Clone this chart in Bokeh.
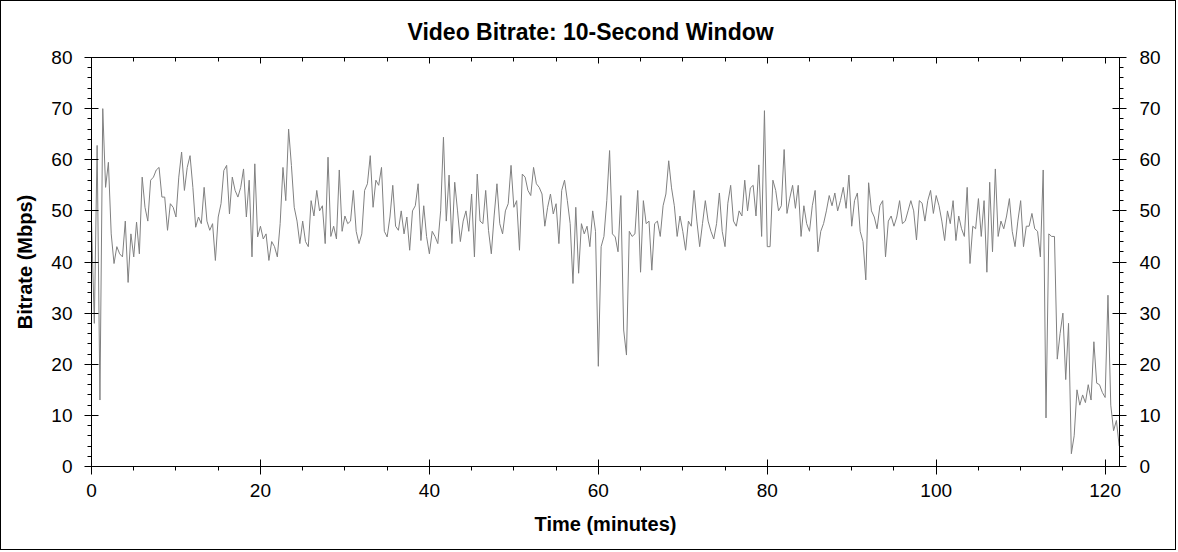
from bokeh.plotting import figure
from bokeh.models import LinearAxis, Range1d, SingleIntervalTicker, CustomJSTickFormatter
from bokeh.embed import file_html
from bokeh.resources import INLINE

title_text = "Video Bitrate: 10-Second Window"
x_label = "Time (minutes)"
y_label = "Bitrate (Mbps)"
x_ticks_interval = 20
y_ticks_interval = 10
step_minutes = 1 / 3  # sampling grid of the read-off values

# bitrate readings (Mbps), one every 20 s, grouped in 5-minute blocks
bitrate_000 = [48, 28, 62.8, 13, 70, 54.6, 59.5, 45.5, 39.7, 43, 41.6, 41, 48, 36, 45.5]
bitrate_005 = [41, 47.8, 41.6, 56.6, 50.7, 48, 56, 56.6, 58, 58.5, 52.7, 52.7, 46.2, 51.4, 50.7]
bitrate_010 = [48.8, 56.6, 61.5, 54, 58.5, 60.8, 54.6, 46.8, 48.8, 47.5, 54.6, 48, 46.2, 47.5, 40.3]
bitrate_015 = [48.8, 51.4, 57.9, 58.9, 49.4, 56.6, 54, 52.7, 54.6, 58.2, 48.8, 56, 41, 59.2, 44.9]
bitrate_020 = [47, 44.5, 45.5, 40.3, 44, 43, 41, 47.5, 58.5, 52, 66, 58.9, 50.7, 48, 43.6]
bitrate_025 = [48, 44, 43, 52, 49, 54, 50, 51, 43.6, 60.5, 45, 47, 44.5, 58, 46]
bitrate_030 = [49, 47.5, 48, 54, 46, 43.6, 45.5, 54, 55.3, 60.8, 50.7, 56, 55, 58.5, 46]
bitrate_035 = [44.9, 48.8, 55, 47, 46.2, 50, 45.5, 48.8, 42.3, 50, 51, 55.3, 44.2, 51, 45]
bitrate_040 = [41.6, 46, 45, 43.6, 50, 64.4, 48, 57, 43.6, 55.6, 50, 44, 48, 50, 46]
bitrate_045 = [53.3, 41, 57.2, 48, 47.5, 54, 46.2, 41.6, 49, 55.3, 47.5, 45.5, 50, 51.4, 58.9]
bitrate_050 = [50.7, 52, 42.3, 57.2, 56.6, 54, 53, 58.5, 55.3, 54.6, 53.3, 47, 50.7, 53.3, 49.4]
bitrate_055 = [51.4, 43.6, 54, 56, 52, 47.5, 35.8, 50.7, 37.8, 47.5, 45.5, 47, 43, 50, 46]
bitrate_060 = [19.6, 43, 45, 52, 61.8, 45.5, 44.9, 42, 53, 26.7, 21.8, 46, 45, 45.5, 54]
bitrate_065 = [38, 52, 47.5, 48, 38.4, 47.5, 48, 45, 51, 53.3, 59.8, 54.5, 51, 45, 49]
bitrate_070 = [46, 42.3, 48, 47, 54, 48, 43, 47.5, 52, 48, 46, 44.5, 47.5, 53.5, 46]
bitrate_075 = [43, 51.5, 55, 48, 47, 50, 49, 56, 50, 54.5, 55, 49, 59, 45, 69.6]
bitrate_080 = [43, 43, 56, 54, 50, 51, 62, 49.5, 52.5, 55, 50.5, 55, 45, 51, 47.5]
bitrate_085 = [46, 51, 54, 42, 46, 47.5, 50, 53, 51, 53.5, 50, 52, 54.6, 50.5, 57]
bitrate_090 = [47, 52, 53.5, 46, 44, 36.5, 55.5, 50, 48.8, 46.5, 51, 52, 41, 48, 49]
bitrate_095 = [47, 48.8, 52, 47.5, 48, 50, 52, 50, 44.3, 52, 51.5, 48, 52, 54, 49.5]
bitrate_100 = [53, 51, 48, 44.2, 50, 47.5, 52, 44.2, 49, 46.5, 45, 54.6, 39.7, 47, 46.5]
bitrate_105 = [52.4, 45, 52, 38, 55.6, 42, 58.2, 45, 48, 46.5, 49, 52.4, 46, 43, 48]
bitrate_110 = [52, 43, 47, 47, 49.5, 46.5, 46, 41, 58, 9.5, 45.5, 45, 45, 21, 26]
bitrate_115 = [30, 17, 28, 2.5, 6, 15, 12, 14, 12.5, 16, 13, 24.4, 16.3, 16, 14.5]
bitrate_120 = [13.5, 33.5, 12, 7, 9, 4]

bitrate = (bitrate_000 + bitrate_005 + bitrate_010 + bitrate_015 + bitrate_020 +
           bitrate_025 + bitrate_030 + bitrate_035 + bitrate_040 + bitrate_045 +
           bitrate_050 + bitrate_055 + bitrate_060 + bitrate_065 + bitrate_070 +
           bitrate_075 + bitrate_080 + bitrate_085 + bitrate_090 + bitrate_095 +
           bitrate_100 + bitrate_105 + bitrate_110 + bitrate_115 + bitrate_120)
minutes = [i * step_minutes for i in range(len(bitrate))]

FONT = "Liberation Sans"

p = figure(width=1176, height=550, output_backend="svg", toolbar_location=None,
           x_range=Range1d(0, 121.7), y_range=Range1d(0, 80),
           x_axis_location=None, y_axis_location=None,
           min_border_left=90, min_border_right=58, min_border_top=56, min_border_bottom=85,
           background_fill_color="white", border_fill_color="white",
           outline_line_color="black", outline_line_width=1, outline_line_alpha=1,
           styles={"border": "1px solid black", "background-color": "white"})
p.xgrid.visible = False
p.ygrid.visible = False

p.title.text = title_text
p.title.align = "left"
p.title.offset = 316
p.title.text_font = FONT
p.title.text_font_size = "23px"
p.title.text_font_style = "bold"
p.title.text_color = "black"
p.title.standoff = 26


def style_axis(ax, label_size="19px"):
    ax.axis_line_color = "black"
    ax.major_tick_line_color = "black"
    ax.minor_tick_line_color = "black"
    ax.major_label_text_font = FONT
    ax.major_label_text_font_size = label_size
    ax.major_label_text_color = "black"
    ax.axis_label_text_font = FONT
    ax.axis_label_text_font_size = "20px"
    ax.axis_label_text_font_style = "bold"
    ax.axis_label_text_color = "black"


xt = SingleIntervalTicker(interval=x_ticks_interval, num_minor_ticks=4)
yt = SingleIntervalTicker(interval=y_ticks_interval, num_minor_ticks=5)

bottom = LinearAxis(ticker=xt, axis_label=x_label)
style_axis(bottom)
bottom.major_tick_in = 7
bottom.major_tick_out = 8
bottom.minor_tick_in = 0
bottom.minor_tick_out = 4
bottom.major_label_standoff = 9
bottom.axis_label_standoff = 13
p.add_layout(bottom, "below")

top = LinearAxis(ticker=xt, formatter=CustomJSTickFormatter(code="return ''"))
style_axis(top)
top.major_tick_in = 6
top.major_tick_out = 0
top.minor_tick_in = 4
top.minor_tick_out = 0
top.major_label_standoff = 0
p.add_layout(top, "above")

left = LinearAxis(ticker=yt, axis_label=y_label)
style_axis(left)
left.major_tick_in = 7
left.major_tick_out = 7
left.minor_tick_in = 0
left.minor_tick_out = 4
left.major_label_standoff = 12
left.axis_label_standoff = 12
p.add_layout(left, "left")

right = LinearAxis(ticker=yt)
style_axis(right)
right.major_tick_in = 7
right.major_tick_out = 7
right.minor_tick_in = 0
right.minor_tick_out = 4
right.major_label_standoff = 13
p.add_layout(right, "right")

p.line(minutes, bitrate, line_color="#808080", line_width=1)

open("out.html", "w").write(file_html(p, INLINE))
